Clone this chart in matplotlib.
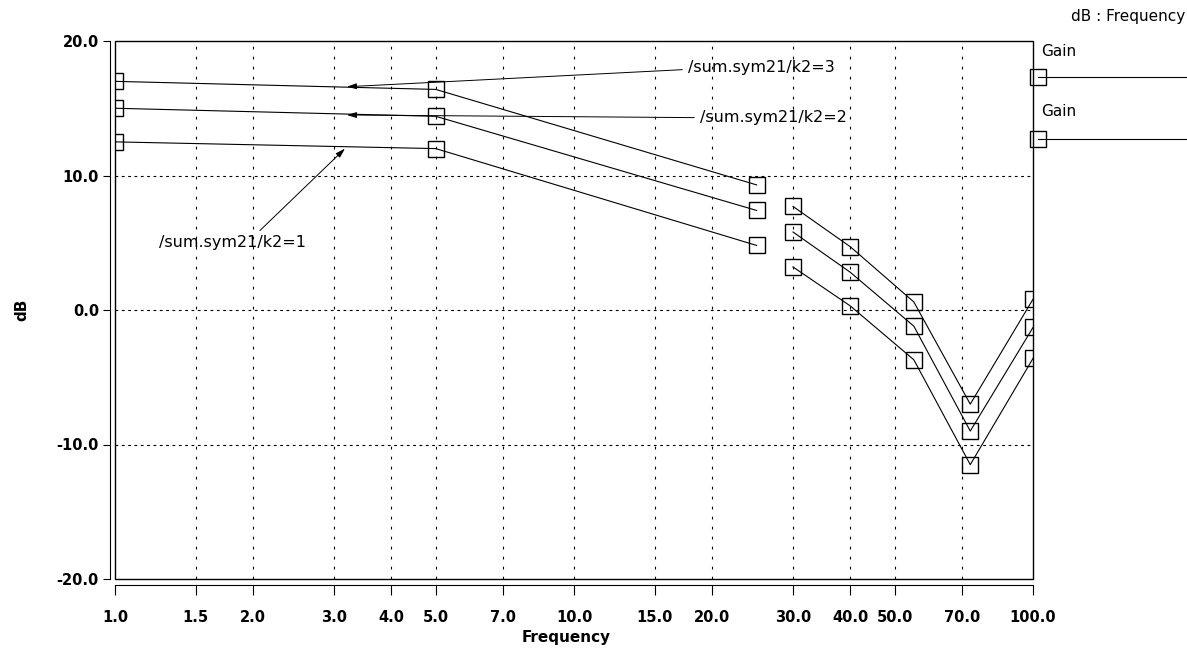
import numpy as np
import matplotlib.pyplot as plt
from matplotlib.lines import Line2D
from matplotlib.ticker import FixedLocator, FixedFormatter, NullLocator

# frequency sweep points (gap between 25 and 30)
freq = [1.0, 5.0, 25.0, 30.0, 40.0, 55.0, 73.0, 100.0]
gain_k3 = [17.0, 16.4, 9.3, 7.7, 4.7, 0.6, -7.0, 0.8]
gain_k2 = [15.0, 14.4, 7.4, 5.8, 2.8, -1.2, -9.0, -1.3]
gain_k1 = [12.5, 12.0, 4.8, 3.2, 0.3, -3.7, -11.5, -3.6]
brk = 3

xticks = [1.0, 1.5, 2.0, 3.0, 4.0, 5.0, 7.0, 10.0, 15.0, 20.0, 30.0, 40.0, 50.0, 70.0, 100.0]
xlabels = ['1.0', '1.5', '2.0', '3.0', '4.0', '5.0', '7.0', '10.0', '15.0', '20.0',
           '30.0', '40.0', '50.0', '70.0', '100.0']
yticks = [-20, -10, 0, 10, 20]
ylabels = ['-20.0', '-10.0', '0.0', '10.0', '20.0']

plt.rcParams['font.family'] = ['DejaVu Sans']

fig = plt.figure(figsize=(11.87, 6.52), dpi=100)
ax = fig.add_axes([115/1187, 1-579/652, 918/1187, 538/652])

for g in (gain_k3, gain_k2, gain_k1):
    for seg in (slice(0, brk), slice(brk, None)):
        ax.plot(freq[seg], g[seg], color='black', lw=0.8, marker='s', ms=12,
                mfc='none', mec='black', mew=1.0)

ax.set_xscale('log')
ax.set_xlim(1, 100)
ax.set_ylim(-20, 20)
ax.xaxis.set_major_locator(FixedLocator(xticks))
ax.xaxis.set_major_formatter(FixedFormatter(xlabels))
ax.xaxis.set_minor_locator(NullLocator())
ax.set_yticks(yticks)
ax.set_yticklabels(ylabels)

# grid
for x in xticks[1:-1]:
    ax.axvline(x, color='black', lw=0.8, ls=(0, (2.5, 6.5)), zorder=0)
for y in yticks[1:-1]:
    ax.axhline(y, color='black', lw=0.8, ls=(0, (2.5, 3.2)), zorder=0)

# box + detached axes
ax.add_patch(plt.Rectangle((0, 0), 1, 1, transform=ax.transAxes, fill=False,
                           ec='black', lw=1.0, clip_on=False, zorder=5))
ax.spines['top'].set_visible(False)
ax.spines['right'].set_visible(False)
ax.spines['left'].set_position(('outward', 3.6))
ax.spines['bottom'].set_position(('outward', 4.3))
ax.tick_params(axis='x', direction='out', length=7, width=0.8, pad=11,
               labelsize=10.5)
ax.tick_params(axis='y', direction='out', length=5, width=0.8, pad=3,
               labelsize=10.5)
for t in ax.get_xticklabels() + ax.get_yticklabels():
    t.set_fontweight('bold')

ax.set_xlabel('Frequency', fontweight='bold', fontsize=11)
ax.xaxis.set_label_coords(0.492, -0.095)
ax.set_ylabel('dB', fontweight='bold', fontsize=11)
ax.yaxis.set_label_coords(-0.093, 0.5)

# annotations
arr = dict(arrowstyle='-|>,head_length=0.5,head_width=0.15', lw=0.7,
           color='black', shrinkA=2, shrinkB=0)
ax.annotate('/sum.sym21/k2=3', xy=(3.2, 16.6), xytext=(17.7, 18.0),
            fontsize=11.5, va='center', ha='left',
            arrowprops=dict(arr, relpos=(0, 0.4)))
ax.annotate('/sum.sym21/k2=2', xy=(3.2, 14.5), xytext=(18.8, 14.3),
            fontsize=11.5, va='center', ha='left',
            arrowprops=dict(arr, relpos=(0, 0.5)))
ax.annotate('/sum.sym21/k2=1', xy=(3.17, 12.0), xytext=(1.25, 5.0),
            fontsize=11.5, va='center', ha='left',
            arrowprops=dict(arr, relpos=(0.65, 1.0)))

# legend on the right
W, H = 1187, 652
fig.text(1185/W, 1-16/H, 'dB : Frequency', ha='right', va='center', fontsize=11)
for ty, ly in ((52, 77), (112, 139)):
    fig.text(1041/W, 1-ty/H, 'Gain', ha='left', va='center', fontsize=11)
    fig.add_artist(Line2D([1038/W, 1187/W], [1-ly/H, 1-ly/H], color='black',
                          lw=0.8, transform=fig.transFigure))
    fig.add_artist(Line2D([1038/W], [1-ly/H], marker='s', ms=12, mfc='none',
                          mec='black', mew=1.0, transform=fig.transFigure))

fig.savefig('out.png', dpi=100)
